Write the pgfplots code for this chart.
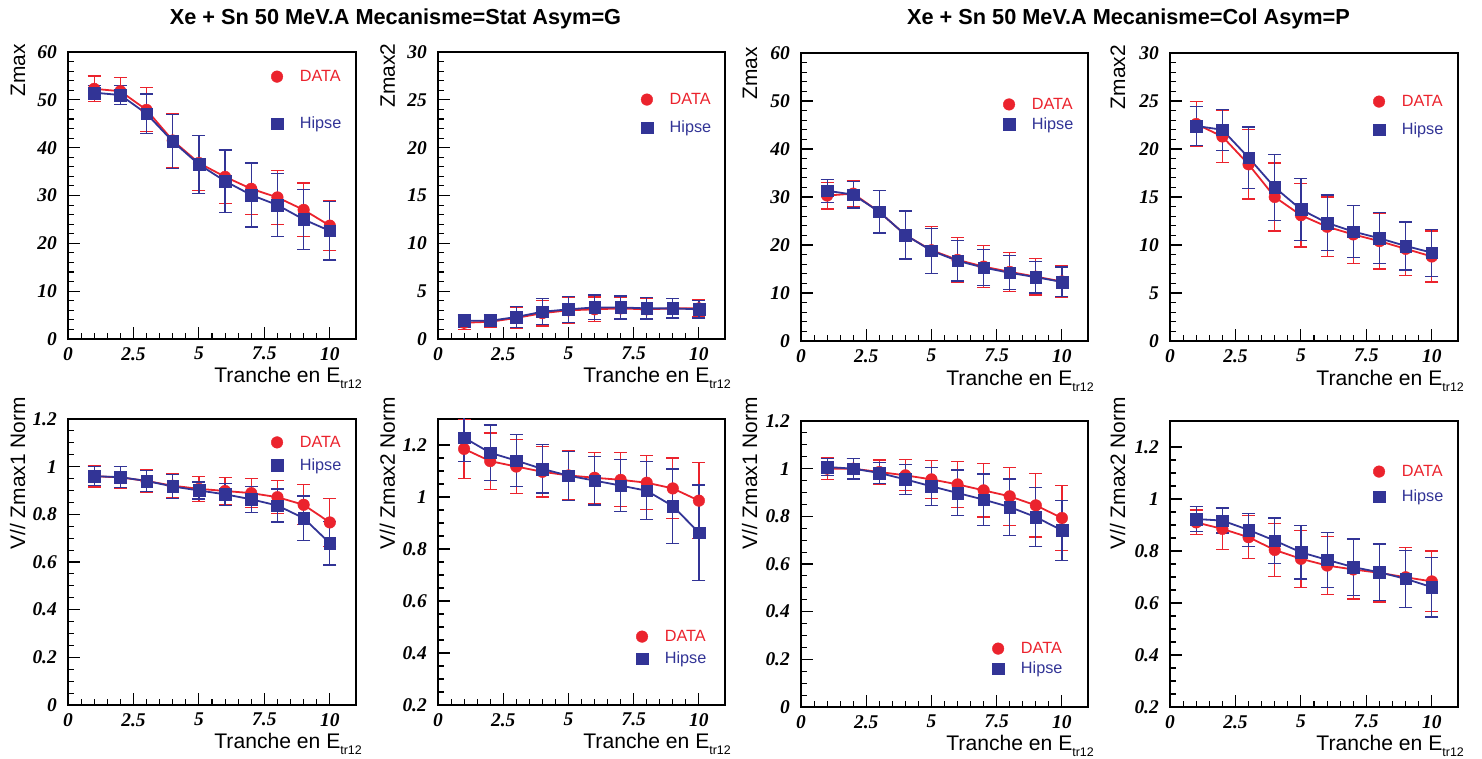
\documentclass[border=0pt]{standalone}
\usepackage{pgfplots}
\pgfplotsset{compat=1.18}
\usepackage{pgfplotstable}
\usepackage{fontspec}
\setmainfont{Liberation Sans}
\newfontfamily\tickfont{Liberation Serif}
\definecolor{dred}{RGB}{235,35,45}
\definecolor{dblue}{RGB}{50,52,150}

\pgfplotstableread{
x dy de hy he
1 52.3 2.7 51.5 1.5
2 51.8 2.8 51.0 2.0
3 47.9 4.6 47.1 4.1
4 41.5 5.6 41.3 5.6
5 36.8 5.7 36.5 6.1
6 33.9 5.6 33.0 6.5
7 31.4 5.3 30.1 6.7
8 29.6 5.7 28.0 6.6
9 27.0 5.6 25.0 6.3
10 23.7 5.2 22.6 6.1
}\tabA
\pgfplotstableread{
x dy de hy he
1 1.7 0.7 1.9 0.7
2 1.8 0.6 1.9 0.6
3 2.2 1.1 2.3 1.1
4 2.7 1.35 2.85 1.35
5 3.0 1.35 3.1 1.35
6 3.1 1.3 3.3 1.3
7 3.2 1.2 3.3 1.2
8 3.1 1.1 3.2 1.1
9 3.2 1.0 3.2 1.0
10 3.2 0.9 3.1 0.9
}\tabB
\pgfplotstableread{
x dy de hy he
1 30.3 2.8 31.3 2.4
2 30.7 2.8 30.5 2.8
3 26.9 4.5 26.9 4.4
4 22.1 5.0 22.1 5.0
5 18.9 4.9 18.8 4.7
6 16.9 4.6 16.7 4.2
7 15.5 4.35 15.3 3.8
8 14.4 4.1 14.2 3.55
9 13.4 3.8 13.3 3.3
10 12.4 3.35 12.3 3.1
}\tabC
\pgfplotstableread{
x dy de hy he
1 22.6 2.35 22.4 2.05
2 21.3 2.7 22.0 2.15
3 18.4 3.6 19.1 3.2
4 15.0 3.55 16.0 3.45
5 13.1 3.3 13.7 3.2
6 11.9 3.1 12.3 2.9
7 11.1 3.0 11.4 2.7
8 10.4 2.9 10.7 2.65
9 9.6 2.8 9.9 2.5
10 8.8 2.65 9.2 2.45
}\tabD
\pgfplotstableread{
x dy de hy he
1 0.960 0.045 0.960 0.040
2 0.955 0.047 0.956 0.045
3 0.940 0.049 0.940 0.045
4 0.920 0.050 0.917 0.050
5 0.907 0.052 0.900 0.036
6 0.898 0.056 0.884 0.047
7 0.889 0.060 0.863 0.055
8 0.872 0.070 0.837 0.069
9 0.840 0.084 0.784 0.093
10 0.766 0.100 0.679 0.092
}\tabE
\pgfplotstableread{
x dy de hy he
1 1.185 0.113 1.228 0.092
2 1.138 0.108 1.170 0.107
3 1.117 0.105 1.140 0.100
4 1.097 0.097 1.108 0.093
5 1.083 0.094 1.082 0.094
6 1.074 0.098 1.063 0.094
7 1.066 0.104 1.044 0.100
8 1.055 0.104 1.024 0.112
9 1.033 0.117 0.965 0.143
10 0.986 0.146 0.863 0.183
}\tabF
\pgfplotstableread{
x dy de hy he
1 1.000 0.045 1.007 0.036
2 1.000 0.043 1.000 0.043
3 0.986 0.050 0.982 0.045
4 0.972 0.065 0.955 0.063
5 0.955 0.080 0.926 0.079
6 0.934 0.097 0.898 0.096
7 0.909 0.112 0.870 0.108
8 0.884 0.121 0.839 0.118
9 0.846 0.133 0.797 0.125
10 0.793 0.135 0.741 0.125
}\tabG
\pgfplotstableread{
x dy de hy he
1 0.910 0.048 0.923 0.048
2 0.885 0.080 0.917 0.048
3 0.853 0.083 0.881 0.064
4 0.804 0.102 0.840 0.087
5 0.770 0.110 0.795 0.103
6 0.744 0.111 0.766 0.106
7 0.729 0.114 0.738 0.108
8 0.716 0.112 0.718 0.109
9 0.699 0.115 0.693 0.110
10 0.683 0.117 0.661 0.115
}\tabH

\pgfplotsset{
  rootax/.style={
    scale only axis, width=288bp, height=287bp,
    xmin=0, xmax=11,
    xtick={0,2.5,5,7.5,10}, xticklabels={0,2.5,5,7.5,10},
    minor x tick num=4,
    tick align=inside, tick pos=left,
    major tick length=12bp, minor tick length=6bp,
    every tick/.style={black, line width=1.1bp},
    axis line style={line width=1.6bp},
    tick label style={font=\tickfont\bfseries\itshape\fontsize{19.5}{19.5}\selectfont, inner sep=0pt},
    xticklabel style={anchor=north, yshift=-8bp},
    yticklabel style={anchor=east, xshift=-11bp},
    xlabel={Tranche en E\raisebox{-6bp}{\fontsize{12.5}{12.5}\selectfont tr12}},
    xlabel style={at={(rel axis cs:1.021,-0.153)}, anchor=base east, inner sep=0pt, font=\fontsize{21.2}{21.2}\selectfont},
    ylabel style={anchor=base east, inner sep=0pt, font=\fontsize{21}{21}\selectfont},
    legend style={draw=none, fill=none, anchor=north west, font=\fontsize{16.3}{16.3}\selectfont, inner sep=0pt, nodes={inner sep=0pt}, column sep=17bp},
    legend cell align=left,
    legend image code/.code={\draw[##1] plot coordinates {(0bp,0bp)};},
  },
  redser/.style={dred, line width=1.8bp, mark=*, mark size=5.8bp, mark options={solid, fill=dred, draw=dred, line width=0.4bp},
    error bars/y dir=both, error bars/y explicit,
    error bars/error bar style={line width=1.2bp, dred},
    error bars/error mark options={rotate=90, mark size=6.5bp, line width=1.2bp, dred}},
  blueser/.style={dblue, line width=1.8bp, mark=square*, mark size=5.8bp, mark options={solid, fill=dblue, draw=dblue, line width=0.4bp},
    error bars/y dir=both, error bars/y explicit,
    error bars/error bar style={line width=1.2bp, dblue},
    error bars/error mark options={rotate=90, mark size=6.5bp, line width=1.2bp, dblue}},
  zbig/.style={ymin=0, ymax=60, ytick={0,10,20,30,40,50,60}, yticklabels={0,10,20,30,40,50,60}, minor y tick num=4},
  zsmall/.style={ymin=0, ymax=30, ytick={0,5,10,15,20,25,30}, yticklabels={0,5,10,15,20,25,30}, minor y tick num=4},
  vone/.style={ymin=0, ymax=1.2, ytick={0,0.2,0.4,0.6,0.8,1,1.2}, yticklabels={0,0.2,0.4,0.6,0.8,1,1.2}, minor y tick num=3},
  vtwo/.style={ymin=0.2, ymax=1.3, ytick={0.2,0.4,0.6,0.8,1,1.2}, yticklabels={0.2,0.4,0.6,0.8,1,1.2}, minor y tick num=3},
}

\begin{document}
\begin{tikzpicture}
\useasboundingbox (0,0) rectangle (1482bp,759bp);

\node[anchor=base, font=\bfseries\fontsize{21.8}{22}\selectfont] at (395.5bp,734bp) {Xe + Sn 50 MeV.A Mecanisme=Stat Asym=G};
\node[anchor=base, font=\bfseries\fontsize{21.8}{22}\selectfont] at (1128.5bp,734bp) {Xe + Sn 50 MeV.A Mecanisme=Col Asym=P};

% Panel A
\begin{axis}[rootax, zbig, at={(68bp,420bp)}, height=287bp,
  ylabel={Zmax}, ylabel style={at={(rel axis cs:-0.149,1.028)}},
  legend style={at={(rel axis cs:0.705,0.937)}, row sep=34bp}]
\addlegendimage{only marks, mark=*, dred, mark size=5.8bp}
\addlegendentry{\textcolor{dred}{DATA}}
\addlegendimage{only marks, mark=square*, dblue, mark size=5.8bp}
\addlegendentry{\textcolor{dblue}{Hipse}}
\addplot[forget plot, redser] table[x=x, y=dy, y error=de] {\tabA};
\addplot[forget plot, blueser] table[x=x, y=hy, y error=he] {\tabA};
\end{axis}

% Panel B
\begin{axis}[rootax, zsmall, at={(438bp,420bp)}, width=287bp, height=287bp,
  ylabel={Zmax2}, ylabel style={at={(rel axis cs:-0.15,1.03)}},
  legend style={at={(rel axis cs:0.707,0.857)}, row sep=15bp}]
\addlegendimage{only marks, mark=*, dred, mark size=5.8bp}
\addlegendentry{\textcolor{dred}{DATA}}
\addlegendimage{only marks, mark=square*, dblue, mark size=5.8bp}
\addlegendentry{\textcolor{dblue}{Hipse}}
\addplot[forget plot, redser] table[x=x, y=dy, y error=de] {\tabB};
\addplot[forget plot, blueser] table[x=x, y=hy, y error=he] {\tabB};
\end{axis}

% Panel C
\begin{axis}[rootax, zbig, at={(801bp,418bp)}, width=287bp, height=288bp,
  ylabel={Zmax}, ylabel style={at={(rel axis cs:-0.153,1.021)}},
  legend style={at={(rel axis cs:0.704,0.844)}, row sep=7bp}]
\addlegendimage{only marks, mark=*, dred, mark size=5.8bp}
\addlegendentry{\textcolor{dred}{DATA}}
\addlegendimage{only marks, mark=square*, dblue, mark size=5.8bp}
\addlegendentry{\textcolor{dblue}{Hipse}}
\addplot[forget plot, redser] table[x=x, y=dy, y error=de] {\tabC};
\addplot[forget plot, blueser] table[x=x, y=hy, y error=he] {\tabC};
\end{axis}

% Panel D
\begin{axis}[rootax, zsmall, at={(1170bp,418bp)}, width=288bp, height=288bp,
  ylabel={Zmax2}, ylabel style={at={(rel axis cs:-0.156,1.028)}},
  legend style={at={(rel axis cs:0.705,0.854)}, row sep=15bp}]
\addlegendimage{only marks, mark=*, dred, mark size=5.8bp}
\addlegendentry{\textcolor{dred}{DATA}}
\addlegendimage{only marks, mark=square*, dblue, mark size=5.8bp}
\addlegendentry{\textcolor{dblue}{Hipse}}
\addplot[forget plot, redser] table[x=x, y=dy, y error=de] {\tabD};
\addplot[forget plot, blueser] table[x=x, y=hy, y error=he] {\tabD};
\end{axis}

% Panel E
\begin{axis}[rootax, vone, at={(68bp,54bp)}, height=286bp,
  ylabel={V// Zmax1 Norm}, ylabel style={at={(rel axis cs:-0.149,1.077)}},
  legend style={at={(rel axis cs:0.705,0.941)}, row sep=10bp}]
\addlegendimage{only marks, mark=*, dred, mark size=5.8bp}
\addlegendentry{\textcolor{dred}{DATA}}
\addlegendimage{only marks, mark=square*, dblue, mark size=5.8bp}
\addlegendentry{\textcolor{dblue}{Hipse}}
\addplot[forget plot, redser] table[x=x, y=dy, y error=de] {\tabE};
\addplot[forget plot, blueser] table[x=x, y=hy, y error=he] {\tabE};
\end{axis}

% Panel F
\begin{axis}[rootax, vtwo, at={(438bp,54bp)}, width=287bp, height=286bp,
  ylabel={V// Zmax2 Norm}, ylabel style={at={(rel axis cs:-0.15,1.077)}},
  legend style={at={(rel axis cs:0.69,0.262)}, row sep=9bp}]
\addlegendimage{only marks, mark=*, dred, mark size=5.8bp}
\addlegendentry{\textcolor{dred}{DATA}}
\addlegendimage{only marks, mark=square*, dblue, mark size=5.8bp}
\addlegendentry{\textcolor{dblue}{Hipse}}
\addplot[forget plot, redser] table[x=x, y=dy, y error=de] {\tabF};
\addplot[forget plot, blueser] table[x=x, y=hy, y error=he] {\tabF};
\end{axis}

% Panel G
\begin{axis}[rootax, vone, at={(801bp,52bp)}, width=287bp, height=286bp,
  ylabel={V// Zmax1 Norm}, ylabel style={at={(rel axis cs:-0.153,1.084)}},
  legend style={at={(rel axis cs:0.666,0.227)}, row sep=7bp}]
\addlegendimage{only marks, mark=*, dred, mark size=5.8bp}
\addlegendentry{\textcolor{dred}{DATA}}
\addlegendimage{only marks, mark=square*, dblue, mark size=5.8bp}
\addlegendentry{\textcolor{dblue}{Hipse}}
\addplot[forget plot, redser] table[x=x, y=dy, y error=de] {\tabG};
\addplot[forget plot, blueser] table[x=x, y=hy, y error=he] {\tabG};
\end{axis}

% Panel H
\begin{axis}[rootax, vtwo, at={(1170bp,52bp)}, width=288bp, height=286bp,
  ylabel={V// Zmax2 Norm}, ylabel style={at={(rel axis cs:-0.156,1.084)}},
  legend style={at={(rel axis cs:0.705,0.846)}, row sep=12bp}]
\addlegendimage{only marks, mark=*, dred, mark size=5.8bp}
\addlegendentry{\textcolor{dred}{DATA}}
\addlegendimage{only marks, mark=square*, dblue, mark size=5.8bp}
\addlegendentry{\textcolor{dblue}{Hipse}}
\addplot[forget plot, redser] table[x=x, y=dy, y error=de] {\tabH};
\addplot[forget plot, blueser] table[x=x, y=hy, y error=he] {\tabH};
\end{axis}
\end{tikzpicture}
\end{document}
